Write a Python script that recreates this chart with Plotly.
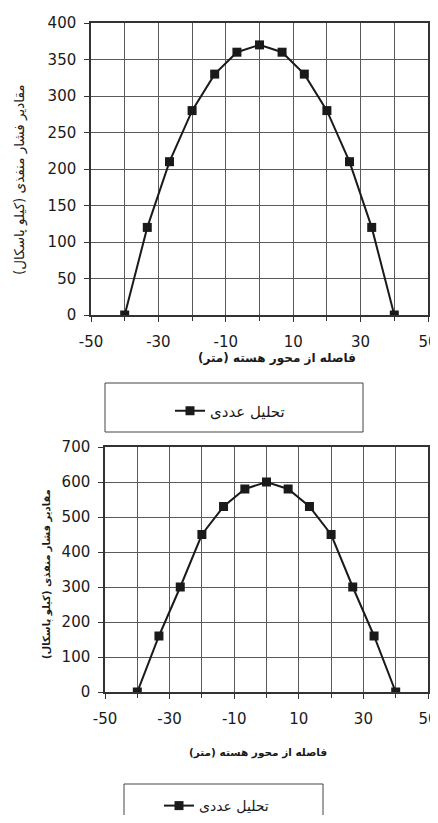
import plotly.graph_objects as go

# ---------------- data ----------------
x_top = [-40, -33.3, -26.7, -20, -13.3, -6.7, 0, 6.7, 13.3, 20, 26.7, 33.3, 40]
p_top = [0, 120, 210, 280, 330, 360, 370, 360, 330, 280, 210, 120, 0]
x_bottom = [-40, -33.3, -26.7, -20, -13.3, -6.7, 0, 6.7, 13.3, 20, 26.7, 33.3, 40]
p_bottom = [0, 160, 300, 450, 530, 580, 600, 580, 530, 450, 300, 160, 0]
x_tick_vals = [-50, -30, -10, 10, 30, 50]
x_tick_text = ["-50", "-30", "-10", "10", "30", "50"]
y_top_ticks = [0, 50, 100, 150, 200, 250, 300, 350, 400]
y_bottom_ticks = [0, 100, 200, 300, 400, 500, 600, 700]
series_name = "تحلیل عددی"
x_title = "فاصله از محور هسته (متر)"
y_title = "مقادیر فشار منفذی (کیلو پاسکال)"

# page is 438x823; the HTML body keeps its default 8px margin
PAGE_W, PAGE_H, OFF = 438, 823, 8
W, H = PAGE_W - OFF, PAGE_H - 2 * OFF
FONT = "DejaVu Sans"
INK = "#1a1a1a"
GRID = "#5a5a5a"


def fx(px):
    return (px - OFF) / W


def fy(py):
    return 1 - (py - OFF) / H


fig = go.Figure()
fig.add_trace(go.Scatter(
    x=x_top, y=p_top, mode="lines+markers", name=series_name,
    line=dict(color=INK, width=2),
    marker=dict(symbol="square", size=9, color=INK),
    xaxis="x", yaxis="y", legend="legend",
))
fig.add_trace(go.Scatter(
    x=x_bottom, y=p_bottom, mode="lines+markers", name=series_name,
    line=dict(color=INK, width=2),
    marker=dict(symbol="square", size=9, color=INK),
    xaxis="x2", yaxis="y2", legend="legend2",
))

common_x = dict(
    range=[-50, 50], tickmode="array", tickvals=x_tick_vals, ticktext=x_tick_text,
    showgrid=True, gridcolor=GRID, gridwidth=1, zeroline=False, automargin=False,
    showline=True, linecolor="#333", linewidth=1.5, mirror=True,
    ticks="outside", ticklen=5, tickcolor="#333", ticklabelstandoff=7,
    ticklabeloverflow="allow",
    minor=dict(dtick=10, tick0=-50, showgrid=True, gridcolor=GRID, gridwidth=1,
               ticks="outside", ticklen=4, tickcolor="#333"),
    tickfont=dict(family=FONT, size=15, color=INK), fixedrange=True,
)
common_y = dict(
    showgrid=True, gridcolor=GRID, gridwidth=1, zeroline=False, automargin=False,
    showline=True, linecolor="#333", linewidth=1.5, mirror=True,
    ticks="outside", ticklen=5, tickcolor="#333", ticklabelstandoff=5,
    tickfont=dict(family=FONT, size=15, color=INK), fixedrange=True,
)

fig.update_layout(
    template="none",
    width=W, height=H,
    margin=dict(l=0, r=0, t=0, b=0, autoexpand=False),
    paper_bgcolor="white", plot_bgcolor="white",
    font=dict(family=FONT, color=INK),
    xaxis=dict(domain=[fx(91), fx(428)], anchor="y", **common_x),
    yaxis=dict(domain=[fy(315), fy(23)], anchor="x", range=[0, 400],
               tickmode="array", tickvals=y_top_ticks, **common_y),
    xaxis2=dict(domain=[fx(105), fx(428)], anchor="y2", **common_x),
    yaxis2=dict(domain=[fy(692), fy(447)], anchor="x2", range=[0, 700],
                tickmode="array", tickvals=y_bottom_ticks, **common_y),
    legend=dict(x=fx(170), y=fy(411), xanchor="left", yanchor="middle",
                bgcolor="rgba(0,0,0,0)", borderwidth=0,
                font=dict(family=FONT, size=15, color=INK)),
    legend2=dict(x=fx(159), y=fy(806), xanchor="left", yanchor="middle",
                 bgcolor="rgba(0,0,0,0)", borderwidth=0,
                 font=dict(family=FONT, size=14, color=INK)),
    showlegend=True,
)

# legend frames
fig.add_shape(type="rect", xref="paper", yref="paper",
              x0=fx(105), x1=fx(363), y0=fy(432), y1=fy(383),
              line=dict(color="#444", width=1))
fig.add_shape(type="rect", xref="paper", yref="paper",
              x0=fx(124), x1=fx(323), y0=fy(840), y1=fy(784),
              line=dict(color="#444", width=1))

# axis titles
fig.add_annotation(text=y_title, xref="paper", yref="paper", x=fx(20), y=fy(180),
                   textangle=-90, showarrow=False, xanchor="center", yanchor="middle",
                   font=dict(family=FONT, size=13.5, color=INK))
fig.add_annotation(text="<b>" + x_title + "</b>", xref="paper", yref="paper", x=fx(277), y=fy(358),
                   showarrow=False, xanchor="center", yanchor="middle",
                   font=dict(family=FONT, size=12, color=INK))
fig.add_annotation(text="<b>" + y_title + "</b>", xref="paper", yref="paper", x=fx(47), y=fy(574),
                   textangle=-90, showarrow=False, xanchor="center", yanchor="middle",
                   font=dict(family=FONT, size=10, color=INK))
fig.add_annotation(text="<b>" + x_title + "</b>", xref="paper", yref="paper", x=fx(258), y=fy(752),
                   showarrow=False, xanchor="center", yanchor="middle",
                   font=dict(family=FONT, size=10.5, color=INK))

fig.write_html("out.html", config={"displayModeBar": False})
